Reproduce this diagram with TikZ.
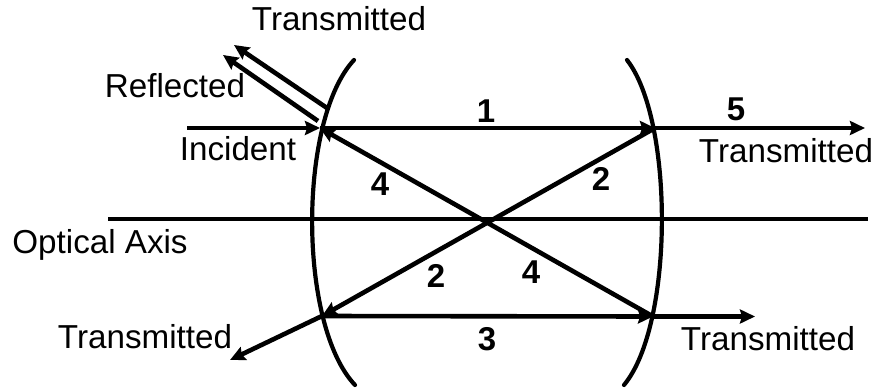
\documentclass[tikz,border=0pt]{standalone}
\usepackage{fontspec}
\setmainfont{Liberation Sans}
\usetikzlibrary{arrows.meta}
\tikzset{
  ray/.style={line width=4.6pt,-{Stealth[length=15pt,width=14pt,inset=2pt]}},
  plain/.style={line width=4.6pt},
  lens/.style={line width=4.2pt,line cap=round},
  lbl/.style={anchor=base,inner sep=0pt,font=\fontsize{33.2}{36}\selectfont},
  num/.style={anchor=base,inner sep=0pt,font=\fontsize{33}{36}\selectfont\bfseries}
}
\begin{document}
\begin{tikzpicture}[x=1pt,y=-1pt]
\useasboundingbox (0,0) rectangle (875,391);
\coordinate (inStart) at (187,128);
\coordinate (A) at (320,128);
\coordinate (B) at (655,128);
\coordinate (C) at (322,316);
\coordinate (D) at (653,316.5);
\coordinate (outR) at (865,128);
\coordinate (outBR) at (755,316.5);
\coordinate (outBL) at (230,360);
\coordinate (refStart) at (318,121);
\coordinate (refEnd) at (223,55);
\coordinate (trStart) at (327,108);
\coordinate (trEnd) at (234,45);
\coordinate (axL) at (108,219);
\coordinate (axR) at (868,219);
\draw[lens] (354,60) .. controls (298,120) and (298,325) .. (355,385);
\draw[lens] (627,60) .. controls (674,120) and (674,325) .. (624,385);
\draw[plain] (axL) -- (axR);
\draw[ray] (inStart) -- (A);
\draw[ray] (A) -- (B);
\draw[ray] (B) -- (outR);
\draw[ray] (B) -- (C);
\draw[ray] (D) -- (A);
\draw[ray] (C) -- (D);
\draw[ray] (D) -- (outBR);
\draw[ray] (C) -- (outBL);
\draw[ray] (refStart) -- (refEnd);
\draw[ray] (trStart) -- (trEnd);
\node[lbl] (t1) at (339,30) {Transmitted};
\node[lbl] (t2) at (175,97) {Reflected};
\node[lbl] (t3) at (238,160) {Incident};
\node[lbl] (t4) at (786,162) {Transmitted};
\node[lbl] (t5) at (100,253) {Optical Axis};
\node[lbl] (t6) at (145,348) {Transmitted};
\node[lbl] (t7) at (768,350) {Transmitted};
\node[num] (n1) at (486,122) {1};
\node[num] (n5) at (736,120) {5};
\node[num] (n2a) at (601,190) {2};
\node[num] (n4a) at (380,195) {4};
\node[num] (n2b) at (436,287) {2};
\node[num] (n4b) at (531,283) {4};
\node[num] (n3) at (487,350) {3};
\end{tikzpicture}
\end{document}
